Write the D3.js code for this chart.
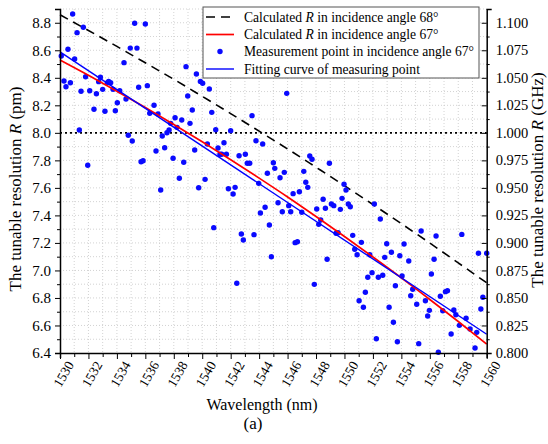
<!DOCTYPE html>
<html>
<head>
<meta charset="utf-8">
<script src="https://cdn.jsdelivr.net/npm/d3@7"></script>
<style>
  body { margin: 0; background: #fff; }
</style>
</head>
<body>
<div id="chart"></div>
<script>
// measured points (wavelength nm, resolution pm)
var measWavelength = [
  1530.09,1530.28,1530.42,1530.56,1530.73,1530.89,1531.03,1531.2,1531.36,1531.48,1531.64,1531.8,1531.95,1532.09,1532.39,1532.56,1532.72,1532.84,1533.0,1533.16,1533.33,1533.42,1533.56,1533.73,1533.89,1534.03,1534.2,1534.5,1534.64,1534.8,1534.94,1535.08,1535.25,1535.41,1535.53,1535.7,1535.84,1536.0,1536.14,1536.31,1536.61,1536.75,1536.89,1537.08,1537.19,1537.36,1537.52,
  1537.67,1537.78,1537.95,1538.09,1538.23,1538.39,1538.56,1538.7,1538.86,1538.98,1539.14,1539.3,1539.47,1539.59,1539.75,1539.87,1540.03,1540.2,1540.36,1540.5,1540.67,1540.81,1540.95,1541.11,1541.25,1541.37,1541.53,1541.7,1541.84,1542.0,1542.17,1542.31,1542.43,1542.59,1542.75,1542.89,1543.03,1543.17,1543.34,1543.5,1543.64,1543.78,1543.97,1544.09,1544.25,1544.42,1544.58,1544.72,1544.86,1545.0,1545.1,
  1545.33,1545.47,1545.63,1545.77,1545.94,1546.08,1546.22,1546.39,1546.53,1546.69,1546.83,1547.0,1547.14,1547.28,1547.42,1547.56,1547.72,1547.88,1548.05,1548.19,1548.33,1548.5,1548.66,1548.78,1548.94,1549.08,1549.25,1549.41,1549.55,1549.71,1549.83,1549.97,1550.11,1550.27,1550.41,1550.58,1550.72,1550.89,1551.03,1551.19,1551.33,1551.47,1551.64,1551.78,1551.94,1552.1,1552.24,1552.38,1552.52,
  1552.69,1552.83,1552.97,1553.14,1553.3,1553.44,1553.58,1553.72,1553.89,1554.05,1554.19,1554.52,1554.66,1554.8,1555.08,1555.22,1555.39,1555.69,1555.85,1555.97,1556.11,1556.3,1556.44,1556.6,1556.74,1556.91,1557.1,1557.24,1557.5,1557.69,1557.83,1558.08,1558.25,1558.55,1558.83,1559.18,1559.3,1559.42,1559.59,1559.73,1560.0
];
var measResolution = [
  8.558,8.377,8.335,8.607,8.364,8.864,8.537,8.728,8.021,8.302,8.767,8.408,7.764,8.306,8.171,8.284,8.372,8.404,8.316,8.157,8.364,8.374,8.364,8.316,8.161,8.219,8.306,8.51,8.246,7.982,8.616,7.941,8.796,8.616,8.331,7.79,7.797,8.791,8.343,8.142,8.2,7.868,8.137,7.585,7.977,7.892,8.001,
  8.021,8.069,7.815,8.11,8.04,7.67,8.093,7.786,8.481,8.268,8.069,8.166,7.875,8.428,7.601,8.374,8.36,7.662,7.919,8.319,8.149,7.311,8.023,7.89,7.844,7.844,7.928,7.844,7.594,8.016,7.555,7.604,6.907,7.834,7.265,7.221,7.844,7.779,7.779,8.125,7.26,7.943,7.633,7.417,7.919,7.459,7.706,7.33,7.1,7.783,7.742,
  7.492,7.674,7.427,7.713,8.287,7.471,7.427,7.558,7.202,7.209,7.572,7.423,7.72,7.641,7.604,7.832,7.808,6.899,7.447,7.335,7.367,7.517,7.452,7.081,7.779,7.483,7.471,7.27,7.274,7.444,7.524,7.626,7.585,7.483,7.463,7.255,7.154,7.114,6.78,7.204,6.732,6.841,6.95,7.114,6.984,7.483,6.504,6.95,7.374,
  6.965,7.095,7.194,6.732,7.132,6.623,6.889,6.482,7.107,6.96,7.192,7.069,6.816,6.863,6.754,6.468,7.287,6.78,6.669,6.71,6.974,7.081,7.25,6.405,6.812,6.707,6.846,6.853,6.538,6.712,6.678,6.601,7.262,6.652,6.574,6.436,6.55,7.125,6.72,6.805,7.125
];

// calculated curves, read every 2 nm
var calcWavelength = [1530,1532,1534,1536,1538,1540,1542,1544,1546,1548,1550,1552,1554,1556,1558,1560];
var calc68 = [8.858,8.744,8.628,8.509,8.389,8.265,8.140,8.012,7.883,7.750,7.616,7.479,7.340,7.199,7.055,6.910];
var calc67 = [8.529,8.418,8.303,8.184,8.061,7.935,7.805,7.671,7.534,7.392,7.247,7.098,6.946,6.789,6.629,6.465];

// linear fit of the measured points
var fitWavelength = [1530, 1560];
var fitResolution = [8.589, 6.536];

var refResolution = 8.0;

var xTicks = d3.range(1530, 1561, 2);
var yTicks = [6.4,6.6,6.8,7.0,7.2,7.4,7.6,7.8,8.0,8.2,8.4,8.6,8.8];
var yRightTicks = [0.800,0.825,0.850,0.875,0.900,0.925,0.950,0.975,1.000,1.025,1.050,1.075,1.100];

var legendLabels = [
  "Calculated |R| in incidence angle 68°",
  "Calculated |R| in incidence angle 67°",
  "Measurement point in incidence angle 67°",
  "Fitting curve of measuring point"
];

var W = 548, H = 444;
var plotLeft = 60, plotRight = 486.7, plotTop = 9, plotBottom = 353;
var serif = "'Liberation Serif', 'Times New Roman', Times, 'DejaVu Serif', serif";

var svg = d3.select("#chart").append("svg")
  .attr("width", W).attr("height", H)
  .attr("font-family", serif);

var x = d3.scaleLinear().domain([1530, 1560]).range([plotLeft, plotRight]);
var y = d3.scaleLinear().domain([6.4, 8.9]).range([plotBottom, plotTop]);
var yR = d3.scaleLinear().domain([0.8, 1.1125]).range([plotBottom, plotTop]);

// grid
var grid = svg.append("g").attr("stroke", "#c8c8c8").attr("stroke-width", 0.8)
  .attr("stroke-dasharray", "1,2");
d3.range(1531, 1560, 1).forEach(function(v) {
  grid.append("line").attr("x1", x(v)).attr("x2", x(v)).attr("y1", plotTop).attr("y2", plotBottom);
});
d3.range(65, 90, 1).forEach(function(v) {
  v = v / 10;
  grid.append("line").attr("x1", plotLeft).attr("x2", plotRight).attr("y1", y(v)).attr("y2", y(v));
});

// 8.0 reference line
svg.append("line")
  .attr("x1", plotLeft).attr("x2", plotRight)
  .attr("y1", y(refResolution)).attr("y2", y(refResolution))
  .attr("stroke", "#000").attr("stroke-width", 1.6).attr("stroke-dasharray", "2,3");

var line = d3.line().x(function(d) { return x(d[0]); }).y(function(d) { return y(d[1]); })
  .curve(d3.curveMonotoneX);

svg.append("path")
  .datum(d3.zip(calcWavelength, calc68))
  .attr("d", line).attr("fill", "none")
  .attr("stroke", "#000").attr("stroke-width", 1.6).attr("stroke-dasharray", "9,6");

// points
svg.append("g").selectAll("circle")
  .data(d3.zip(measWavelength, measResolution))
  .enter().append("circle")
    .attr("cx", function(d) { return x(d[0]); })
    .attr("cy", function(d) { return y(d[1]); })
    .attr("r", 2.7)
    .attr("fill", "#0a0aff");

svg.append("path")
  .datum(d3.zip(calcWavelength, calc67))
  .attr("d", line).attr("fill", "none")
  .attr("stroke", "#ff0000").attr("stroke-width", 1.7);

svg.append("path")
  .datum(d3.zip(fitWavelength, fitResolution))
  .attr("d", line).attr("fill", "none")
  .attr("stroke", "#0000ff").attr("stroke-width", 1.4);

// axes
var xAxis = svg.append("g").attr("transform", "translate(0," + plotBottom + ")")
  .call(d3.axisBottom(x).tickValues(d3.range(1530, 1561, 1)).tickSize(5).tickFormat(""));
xAxis.selectAll(".tick line").attr("y2", function(d) { return d % 2 === 0 ? 6 : 4; });
xAxis.select(".domain").attr("stroke-width", 1.5);
xTicks.forEach(function(v) {
  svg.append("text")
    .attr("transform", "translate(" + (x(v) + 3.5) + "," + 374 + ") rotate(-60)")
    .attr("text-anchor", "middle").attr("dy", "0.35em")
    .attr("font-size", 13.5)
    .text(v);
});

var yAxis = svg.append("g").attr("transform", "translate(" + plotLeft + ",0)")
  .call(d3.axisLeft(y).tickValues(d3.range(64, 90, 1).map(function(v) { return v / 10; }))
    .tickSize(5).tickFormat(""));
yAxis.selectAll(".tick line").attr("x2", function(d) { return Math.round(d * 10) % 2 === 0 ? -5 : -3; });
yAxis.select(".domain").attr("stroke-width", 1.5);
yTicks.forEach(function(v) {
  svg.append("text").attr("x", plotLeft - 9).attr("y", y(v)).attr("dy", "0.35em")
    .attr("text-anchor", "end").attr("font-size", 15).text(d3.format(".1f")(v));
});

var yRAxis = svg.append("g").attr("transform", "translate(" + plotRight + ",0)")
  .call(d3.axisRight(yR).tickValues(d3.range(64, 90, 1).map(function(v) { return v / 80; }))
    .tickSize(5).tickFormat(""));
yRAxis.selectAll(".tick line").attr("x2", function(d) { return Math.round(d * 80) % 2 === 0 ? -5 : 3; });
yRAxis.select(".domain").attr("stroke-width", 1.5);
yRightTicks.forEach(function(v) {
  svg.append("text").attr("x", plotRight + 9).attr("y", yR(v)).attr("dy", "0.35em")
    .attr("text-anchor", "start").attr("font-size", 14.5).text(d3.format(".3f")(v));
});

// axis titles
function richText(sel, str) {
  str.split("|").forEach(function(part, i) {
    sel.append("tspan").attr("font-style", i === 1 ? "italic" : "normal").text(part);
  });
}
richText(svg.append("text")
  .attr("transform", "translate(21,189) rotate(-90)")
  .attr("text-anchor", "middle").attr("font-size", 17), "The tunable resolution |R| (pm)");
richText(svg.append("text")
  .attr("transform", "translate(543,180) rotate(-90)")
  .attr("text-anchor", "middle").attr("font-size", 17), "The tunable resolution |R| (GHz)");

svg.append("text").attr("x", 262).attr("y", 410).attr("text-anchor", "middle")
  .attr("font-size", 16).text("Wavelength  (nm)");
svg.append("text").attr("x", 253).attr("y", 429).attr("text-anchor", "middle")
  .attr("font-size", 17).text("(a)");

// legend
var lg = svg.append("g");
lg.append("rect").attr("x", 203).attr("y", 7).attr("width", 276).attr("height", 71)
  .attr("fill", "#fff").attr("stroke", "#555").attr("stroke-width", 1);
var rowY = [17, 34.5, 51.5, 69];
lg.append("line").attr("x1", 206).attr("x2", 234).attr("y1", rowY[0]).attr("y2", rowY[0])
  .attr("stroke", "#000").attr("stroke-width", 1.6).attr("stroke-dasharray", "9,6");
lg.append("line").attr("x1", 206).attr("x2", 234).attr("y1", rowY[1]).attr("y2", rowY[1])
  .attr("stroke", "#ff0000").attr("stroke-width", 1.7);
lg.append("circle").attr("cx", 220).attr("cy", rowY[2]).attr("r", 2.7).attr("fill", "#0a0aff");
lg.append("line").attr("x1", 206).attr("x2", 234).attr("y1", rowY[3]).attr("y2", rowY[3])
  .attr("stroke", "#0000ff").attr("stroke-width", 1.4);
legendLabels.forEach(function(t, i) {
  richText(lg.append("text").attr("x", 244).attr("y", rowY[i]).attr("dy", "0.35em")
    .attr("font-size", 13.6), t);
});
</script>
</body>
</html>
